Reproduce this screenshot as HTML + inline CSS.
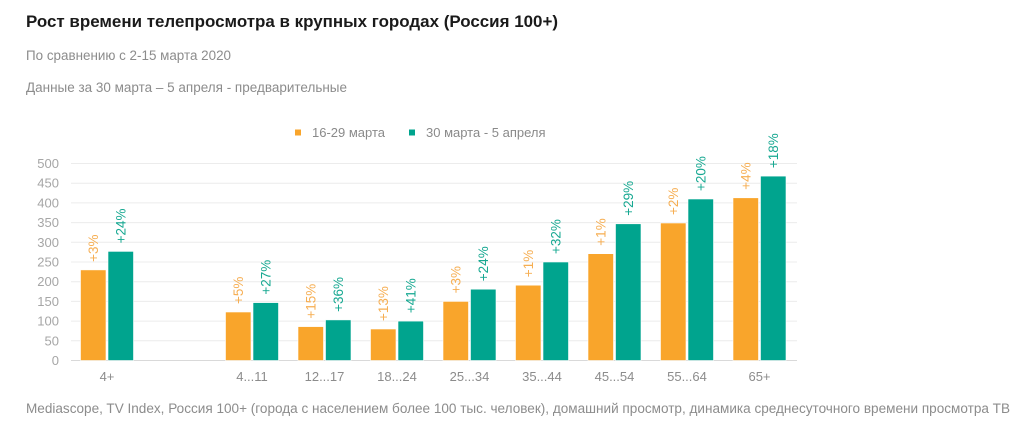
<!DOCTYPE html>
<html><head><meta charset="utf-8"><style>
html,body{margin:0;padding:0;background:#fff;}
svg{display:block;font-family:"Liberation Sans",Arial,sans-serif;}
</style></head><body>
<svg width="1024" height="440" viewBox="0 0 1024 440" xmlns="http://www.w3.org/2000/svg">
<text x="26" y="27" font-size="17" font-weight="bold" fill="#1a1a1a" textLength="532" lengthAdjust="spacingAndGlyphs">Рост времени телепросмотра в крупных городах (Россия 100+)</text>
<text x="26" y="60" font-size="13.5" fill="#8c8c8c" textLength="205" lengthAdjust="spacingAndGlyphs">По сравнению с 2-15 марта 2020</text>
<text x="26" y="92" font-size="13.5" fill="#8c8c8c" textLength="321" lengthAdjust="spacingAndGlyphs">Данные за 30 марта – 5 апреля - предварительные</text>

<rect x="295" y="129.5" width="6" height="6" fill="#F9A52B"/>
<text x="312" y="137" font-size="13" fill="#8a8a8a">16-29 марта</text>
<rect x="409" y="129.5" width="6" height="6" fill="#00A48E"/>
<text x="426" y="137" font-size="13" fill="#8a8a8a">30 марта - 5 апреля</text>

<g stroke="#ececec" stroke-width="1">
<line x1="71" x2="797" y1="340.8" y2="340.8"/>
<line x1="71" x2="797" y1="321.1" y2="321.1"/>
<line x1="71" x2="797" y1="301.4" y2="301.4"/>
<line x1="71" x2="797" y1="281.7" y2="281.7"/>
<line x1="71" x2="797" y1="262" y2="262"/>
<line x1="71" x2="797" y1="242.3" y2="242.3"/>
<line x1="71" x2="797" y1="222.6" y2="222.6"/>
<line x1="71" x2="797" y1="202.9" y2="202.9"/>
<line x1="71" x2="797" y1="183.2" y2="183.2"/>
<line x1="71" x2="797" y1="163.5" y2="163.5"/>
</g>
<line x1="71" x2="797" y1="360.5" y2="360.5" stroke="#d9d9d9" stroke-width="1"/>

<g font-size="13" fill="#a6a6a6" text-anchor="end">
<text x="59" y="365">0</text>
<text x="59" y="345.3">50</text>
<text x="59" y="325.6">100</text>
<text x="59" y="305.9">150</text>
<text x="59" y="286.2">200</text>
<text x="59" y="266.5">250</text>
<text x="59" y="246.8">300</text>
<text x="59" y="227.1">350</text>
<text x="59" y="207.4">400</text>
<text x="59" y="187.7">450</text>
<text x="59" y="168">500</text>
</g>

<g fill="#F9A52B" stroke="#fff" stroke-width="0.6">
<rect x="80.5" y="269.9" width="25.5" height="90.6"/>
<rect x="225.5" y="312" width="25.5" height="48.5"/>
<rect x="298" y="326.6" width="25.5" height="33.9"/>
<rect x="370.5" y="329" width="25.5" height="31.5"/>
<rect x="443" y="301.4" width="25.5" height="59.1"/>
<rect x="515.5" y="285.2" width="25.5" height="75.3"/>
<rect x="588" y="253.7" width="25.5" height="106.8"/>
<rect x="660.5" y="223" width="25.5" height="137.5"/>
<rect x="733" y="197.8" width="25.5" height="162.7"/>
</g>
<g fill="#00A48E" stroke="#fff" stroke-width="0.6">
<rect x="108" y="251.4" width="25.5" height="109.1"/>
<rect x="253" y="302.6" width="25.5" height="57.9"/>
<rect x="325.5" y="319.9" width="25.5" height="40.6"/>
<rect x="398" y="321.1" width="25.5" height="39.4"/>
<rect x="470.5" y="289.2" width="25.5" height="71.3"/>
<rect x="543" y="262" width="25.5" height="98.5"/>
<rect x="615.5" y="223.8" width="25.5" height="136.7"/>
<rect x="688" y="199" width="25.5" height="161.5"/>
<rect x="760.5" y="176.1" width="25.5" height="184.4"/>
</g>

<g font-size="13.5" fill="#F6AE52">
<text transform="translate(93.25,261.9) rotate(-90)" dy="0.35em">+3%</text>
<text transform="translate(238.25,304) rotate(-90)" dy="0.35em">+5%</text>
<text transform="translate(310.75,318.6) rotate(-90)" dy="0.35em">+15%</text>
<text transform="translate(383.25,321) rotate(-90)" dy="0.35em">+13%</text>
<text transform="translate(455.75,293.4) rotate(-90)" dy="0.35em">+3%</text>
<text transform="translate(528.25,277.2) rotate(-90)" dy="0.35em">+1%</text>
<text transform="translate(600.75,245.7) rotate(-90)" dy="0.35em">+1%</text>
<text transform="translate(673.25,215) rotate(-90)" dy="0.35em">+2%</text>
<text transform="translate(745.75,189.8) rotate(-90)" dy="0.35em">+4%</text>
</g>
<g font-size="13.5" fill="#16A891">
<text transform="translate(120.75,243.4) rotate(-90)" dy="0.35em">+24%</text>
<text transform="translate(265.75,294.6) rotate(-90)" dy="0.35em">+27%</text>
<text transform="translate(338.25,311.9) rotate(-90)" dy="0.35em">+36%</text>
<text transform="translate(410.75,313.1) rotate(-90)" dy="0.35em">+41%</text>
<text transform="translate(483.25,281.2) rotate(-90)" dy="0.35em">+24%</text>
<text transform="translate(555.75,254) rotate(-90)" dy="0.35em">+32%</text>
<text transform="translate(628.25,215.8) rotate(-90)" dy="0.35em">+29%</text>
<text transform="translate(700.75,191) rotate(-90)" dy="0.35em">+20%</text>
<text transform="translate(773.25,168.1) rotate(-90)" dy="0.35em">+18%</text>
</g>

<g font-size="13" fill="#8c8c8c" text-anchor="middle">
<text x="107" y="381">4+</text>
<text x="252" y="381">4...11</text>
<text x="324.5" y="381">12...17</text>
<text x="397" y="381">18...24</text>
<text x="469.5" y="381">25...34</text>
<text x="542" y="381">35...44</text>
<text x="614.5" y="381">45...54</text>
<text x="687" y="381">55...64</text>
<text x="759.5" y="381">65+</text>
</g>

<text x="26" y="413" font-size="13.5" fill="#8c8c8c" textLength="984" lengthAdjust="spacingAndGlyphs">Mediascope, TV Index, Россия 100+ (города с населением более 100 тыс. человек), домашний просмотр, динамика среднесуточного времени просмотра ТВ</text>
</svg>
</body></html>
